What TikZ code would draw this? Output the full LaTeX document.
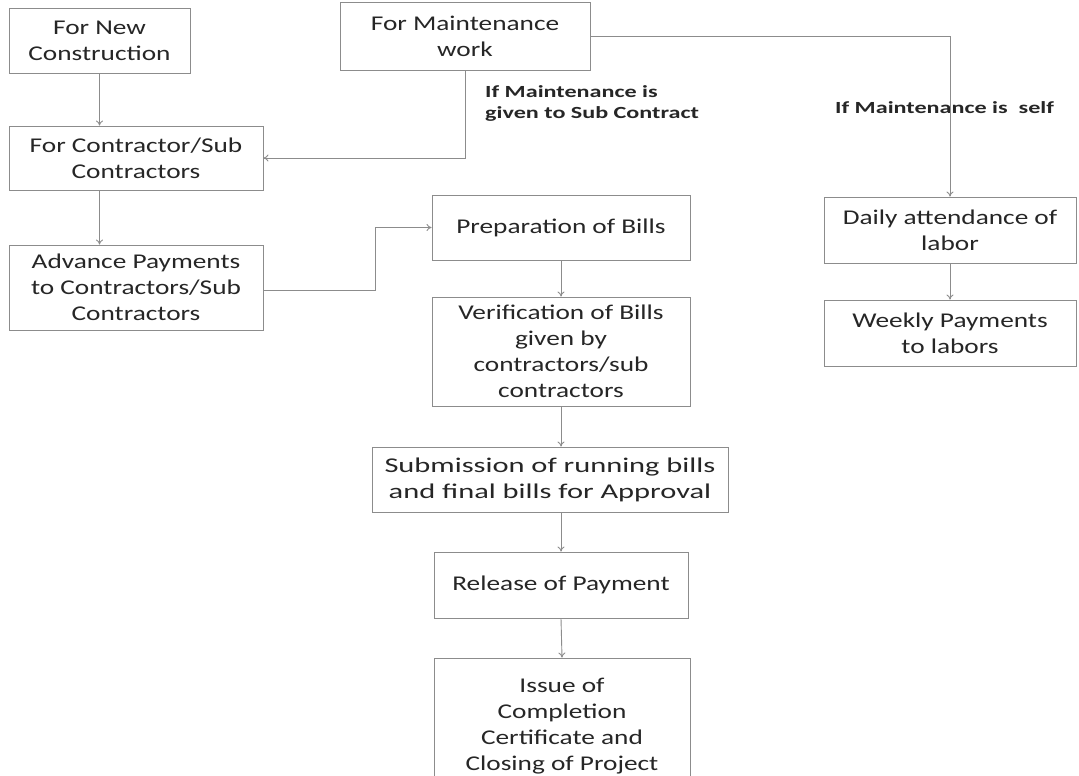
\documentclass[tikz,border=0pt]{standalone}
\usepackage{fontspec}
\setmainfont{Carlito}[FakeStretch=1.3]
\newfontfamily\widefont{Carlito}[FakeStretch=1.45]
\newfontfamily\lblfont{Carlito}[FakeStretch=1.42]
\usetikzlibrary{arrows.meta}
\begin{document}
\begin{tikzpicture}[x=1pt,y=-1pt,
  box/.style={draw=black!45,line width=0.9pt,rectangle,inner sep=0pt,align=center,
    font=\fontsize{21}{26}\selectfont,text=black!85},
  conn/.style={draw=black!45,line width=0.9pt,-{To[length=5pt,width=7pt]}},
  lbl/.style={font=\lblfont\bfseries\fontsize{17}{21}\selectfont,text=black!85,align=left,inner sep=0pt,anchor=west}]
\useasboundingbox (0,0) rectangle (1079,776);
\fill[white] (0,0) rectangle (1079,776);
\node[box,minimum width=181pt,minimum height=65pt] (newcon) at (99.5,40.5) {For New\\Construction};
\node[box,minimum width=250pt,minimum height=68pt] (maint) at (465,36) {For Maintenance\\work};
\node[box,minimum width=254pt,minimum height=64pt] (contr) at (136,158) {For Contractor/Sub\\Contractors};
\node[box,minimum width=254pt,minimum height=85pt] (adv) at (136,287.5) {Advance Payments\\to Contractors/Sub\\Contractors};
\node[box,minimum width=258pt,minimum height=65pt] (prep) at (561,227.5) {Preparation of Bills};
\node[box,minimum width=258pt,minimum height=109pt] (verif) at (561,351.5) {Verification of Bills\\given by\\contractors/sub\\contractors};
\node[box,minimum width=356pt,minimum height=65pt,font=\widefont\fontsize{21}{26}\selectfont] (subm) at (550,479.5) {Submission of running bills\\and final bills for Approval};
\node[box,minimum width=254pt,minimum height=66pt] (rel) at (561,585) {Release of Payment};
\node[box,minimum width=256pt,minimum height=136pt] (issue) at (562,726) {Issue of\\Completion\\Certificate and\\Closing of Project};
\node[box,minimum width=252pt,minimum height=66pt] (daily) at (950,230) {Daily attendance of\\labor};
\node[box,minimum width=252pt,minimum height=66pt] (weekly) at (950,333) {Weekly Payments\\to labors};
\node[lbl] (l1) at (485,103) {If Maintenance is\\given to Sub Contract};
\node[lbl] (l2) at (835,108) {If Maintenance is\ \ self};
\draw[conn] (newcon.south) -- (newcon.south |- contr.north);
\draw[conn] (maint.south) |- (contr.east);
\draw[conn] (maint.east) -| (daily.north);
\draw[conn] (contr.south -| newcon.south) -- (newcon.south |- adv.north);
\coordinate (bend) at (375,290);
\draw[conn] (adv.east |- bend) -- (bend) |- (prep.west);
\draw[conn] (prep.south) -- (verif.north);
\draw[conn] (verif.south) -- (verif.south |- subm.north);
\draw[conn] (verif.south |- subm.south) -- (rel.north);
\draw[conn] (rel.south) -- (issue.north);
\draw[conn] (daily.south) -- (weekly.north);
\end{tikzpicture}
\end{document}
